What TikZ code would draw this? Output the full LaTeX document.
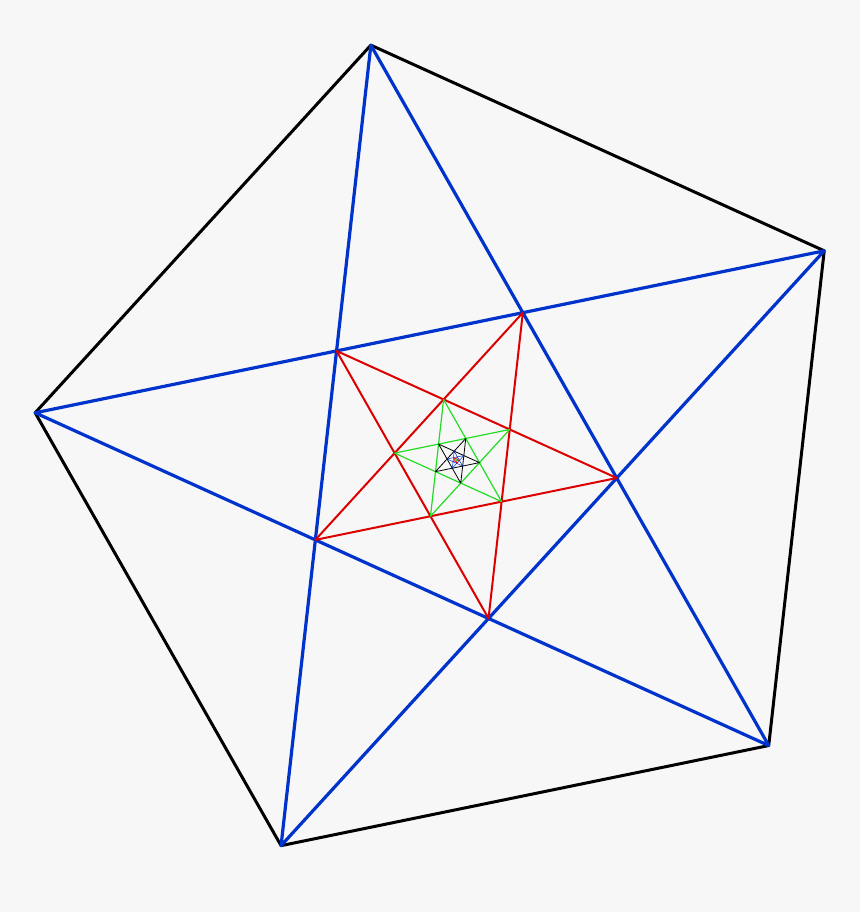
\documentclass[tikz,border=0pt]{standalone}
\usepackage{tikz}
\definecolor{starblue}{RGB}{0,51,204}
\definecolor{starred}{RGB}{221,0,0}
\definecolor{stargreen}{RGB}{34,221,34}
\definecolor{paper}{RGB}{247,247,247}
\begin{document}
\begin{tikzpicture}[x=1pt, y=1pt, line join=round, line cap=round]
	\fill[paper] (0,0) rectangle (860,912);
	\coordinate (c) at (456,452);
	%aussen
	\foreach \k in {0,...,4}
		\coordinate (p\k) at ([shift={(c)}] 101.6+72*\k:423.5);
	\draw[line width=3pt] (p0) -- (p1) -- (p2) -- (p3) -- (p4) -- cycle;
	%sterne
	\foreach \n/\col/\lw in {0/starblue/3.2, 1/starred/2, 2/stargreen/1.2, 3/black/.8, 4/starblue/.5, 5/starred/.35, 6/stargreen/.2}{
		\foreach \k in {0,...,4}
			\coordinate (s\n-\k) at ([shift={(c)}] 101.6+36*\n+72*\k:{423.5*0.381966^\n});
		\draw[\col, line width=\lw pt] (s\n-0) -- (s\n-2) -- (s\n-4) -- (s\n-1) -- (s\n-3) -- cycle;
	}
\end{tikzpicture}
\end{document}
